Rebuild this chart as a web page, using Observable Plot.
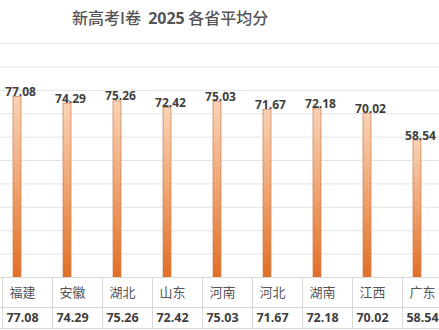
<!DOCTYPE html>
<html>
<head>
<meta charset="utf-8">
<script src="https://cdn.jsdelivr.net/npm/d3@7"></script>
<script src="https://cdn.jsdelivr.net/npm/@observablehq/plot@0.6"></script>
<style>
  html, body { margin: 0; padding: 0; background: #fff; }
  #wrap { position: relative; width: 439px; height: 330px; overflow: hidden; background: #fff; }
  #title { height: 30px; box-sizing: border-box; padding-top: 8px; padding-left: 72px; line-height: 18px;
           font-size: 16px; color: #555; white-space: pre; font-family: "Noto Sans CJK SC", sans-serif; font-weight: 500; }
  #title .num { font-family: "Open Sans", sans-serif; font-weight: 700; }
  #table { position: absolute; left: 0; top: 277px; width: 439px; height: 53px; }
  .cell { position: absolute; box-sizing: border-box; border-left: 1px solid #d9d9d9; text-align: center; padding-right: 10px; white-space: nowrap; }
  .cat { top: 0; height: 30px; line-height: 30px; font-family: "Noto Sans CJK SC", sans-serif; font-size: 13px; color: #555; }
  .val { top: 30px; height: 22px; line-height: 22px; font-family: "Open Sans", sans-serif; font-weight: 700; font-size: 12.5px; color: #404040; }
  .hline { position: absolute; left: 0; width: 439px; height: 0; border-top: 1px solid #d9d9d9; }
</style>
</head>
<body>
<div id="wrap">
  <div id="title">新高考I卷  <span class="num">2025</span> 各省平均分</div>
  <div id="chart"></div>
  <div id="table"></div>
</div>
<script>
const categories = ["福建", "安徽", "湖北", "山东", "河南", "河北", "湖南", "江西", "广东"];
const values = [77.08, 74.29, 75.26, 72.42, 75.03, 71.67, 72.18, 70.02, 58.54];
const yTicks = [0, 10, 20, 30, 40, 50, 60, 70, 80, 90, 100];

const data = categories.map((c, i) => ({ cat: c, val: values[i] }));

const ns = "http://www.w3.org/2000/svg";
function gradientDefs() {
  const defs = document.createElementNS(ns, "defs");
  const g = document.createElementNS(ns, "linearGradient");
  g.setAttribute("id", "barGrad");
  g.setAttribute("x1", "0"); g.setAttribute("y1", "0");
  g.setAttribute("x2", "0"); g.setAttribute("y2", "1");
  [["0%", "#f8d3b6"], ["45%", "#f0a877"], ["100%", "#e06f26"]].forEach(([o, c]) => {
    const s = document.createElementNS(ns, "stop");
    s.setAttribute("offset", o); s.setAttribute("stop-color", c);
    g.appendChild(s);
  });
  defs.appendChild(g);
  return defs;
}

const plot = Plot.plot({
  width: 439,
  height: 247,
  marginTop: 13,
  marginBottom: 0,
  marginLeft: 0,
  marginRight: 0,
  style: { background: "transparent" },
  x: { type: "band", domain: categories, range: [-8.5, 441.5], padding: 0, axis: null },
  y: { domain: [0, 100], axis: null },
  marks: [
    gradientDefs,
    Plot.ruleY(yTicks, { stroke: "#e3e3e3", strokeWidth: 1 }),
    Plot.barY(data, {
      x: "cat", y: "val",
      insetLeft: 21, insetRight: 21,
      fill: "url(#barGrad)", stroke: "#cf7d4c", strokeWidth: 0.7
    }),
    Plot.text(data, {
      x: "cat", y: "val", text: d => d.val.toFixed(2),
      lineAnchor: "bottom", dy: -1, dx: 3,
      fontFamily: "Open Sans", fontWeight: 700, fontSize: 12, fill: "#404040"
    })
  ]
});
document.getElementById("chart").appendChild(plot);

// data table below the chart, aligned on the chart's x scale
const xs = plot.scale("x");
const bw = xs.bandwidth;
const table = document.getElementById("table");
[0, 30, 51].forEach(t => {
  const l = document.createElement("div");
  l.className = "hline"; l.style.top = t + "px";
  table.appendChild(l);
});
categories.forEach((c, i) => {
  const left = xs.apply(c) + 10;
  const a = document.createElement("div");
  a.className = "cell cat"; a.style.left = left + "px"; a.style.width = bw + "px";
  a.textContent = c;
  table.appendChild(a);
  const b = document.createElement("div");
  b.className = "cell val"; b.style.left = left + "px"; b.style.width = bw + "px";
  b.textContent = values[i].toFixed(2);
  table.appendChild(b);
});
</script>
</body>
</html>
